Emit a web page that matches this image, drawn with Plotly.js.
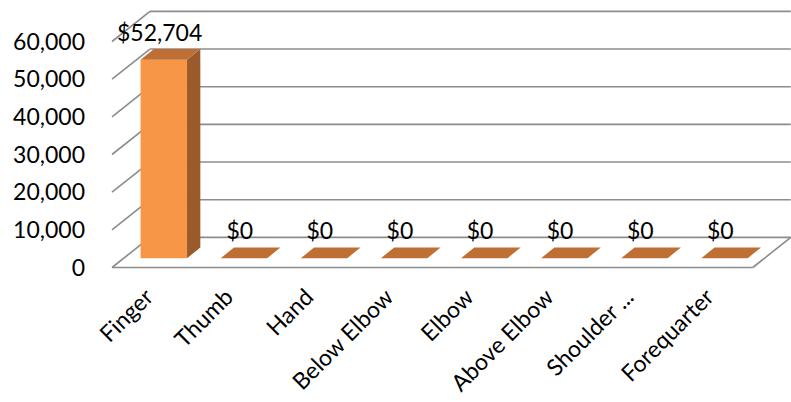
<!DOCTYPE html>
<html>
<head>
<meta charset="utf-8">
<script src="https://cdn.plot.ly/plotly-3.0.1.min.js"></script>
<style>html,body{margin:0;padding:0;background:#fff}#chart{width:791px;height:402px}</style>
</head>
<body>
<div id="chart"></div>
<script>
// ---- data ----
var categories = ['Finger','Thumb','Hand','Below Elbow','Elbow','Above Elbow','Shoulder ...','Forequarter'];
var values = [52704, 0, 0, 0, 0, 0, 0, 0];
var yTickVals = [0, 10000, 20000, 30000, 40000, 50000, 60000];
var yTickText = ['0', '10,000', '20,000', '30,000', '40,000', '50,000', '60,000'];
var valueLabels = values.map(function(v){ return '$' + v.toLocaleString('en-US'); });

// ---- 3D oblique look (depth vector in axis units) ----
var DX = 0.474;     // full depth, x units
var DY = 8000;      // full depth, value units
var d0 = 0.31, d1 = 0.66, hw = 0.29;
var xs = categories.map(function(c, i){ return i; });
var FONT = 'Lato, sans-serif';

var gridColor = '#8c8c8c';
var shapes = [];
yTickVals.forEach(function(t){
  shapes.push({type:'line', xref:'x', yref:'y', layer:'below', x0:-0.5, y0:t, x1:-0.5+DX, y1:t+DY, line:{color:gridColor, width:1.6}});
  shapes.push({type:'line', xref:'x', yref:'y', layer:'below', x0:-0.5+DX, y0:t+DY, x1:categories.length-0.5+DX, y1:t+DY, line:{color:gridColor, width:1.6}});
});
shapes.push({type:'line', xref:'x', yref:'y', layer:'below', x0:-0.5, y0:0, x1:categories.length-0.5, y1:0, line:{color:gridColor, width:1.6}});
shapes.push({type:'line', xref:'x', yref:'y', layer:'below', x0:categories.length-0.5, y0:0, x1:categories.length-0.5+DX, y1:DY, line:{color:gridColor, width:1.6}});

var traces = [];
// front faces
traces.push({
  type:'bar', x: xs.map(function(i){ return i + DX*d0; }), y: values,
  base: values.map(function(){ return DY*d0; }), width: 2*hw,
  marker:{color:'#F79646', line:{width:0}}, hoverinfo:'skip', showlegend:false
});
// side + top faces
values.forEach(function(v, i){
  if (v > 0) {
    traces.push({type:'scatter', mode:'lines', fill:'toself', fillcolor:'#9B5A2B', line:{width:0, color:'#9B5A2B'},
      x:[i+hw+DX*d0, i+hw+DX*d1, i+hw+DX*d1, i+hw+DX*d0, i+hw+DX*d0],
      y:[DY*d0, DY*d1, v+DY*d1, v+DY*d0, DY*d0], hoverinfo:'skip', showlegend:false});
  }
  traces.push({type:'scatter', mode:'lines', fill:'toself', fillcolor:'#BD6F34', line:{width:0, color:'#BD6F34'},
    x:[i-hw+DX*d0, i+hw+DX*d0, i+hw+DX*d1, i-hw+DX*d1, i-hw+DX*d0],
    y:[v+DY*d0, v+DY*d0, v+DY*d1, v+DY*d1, v+DY*d0], hoverinfo:'skip', showlegend:false});
});
// data labels
traces.push({type:'scatter', mode:'text', x: xs.map(function(i){ return i + DX*0.2; }),
  y: values.map(function(v){ return v + DY*d1 + 700; }), text: valueLabels, textposition:'top center',
  textfont:{family:FONT, size:23, color:'#000'}, cliponaxis:false, hoverinfo:'skip', showlegend:false});

var layout = {
  width:791, height:402,
  margin:{l:108, r:0, t:4, b:130},
  paper_bgcolor:'#fff', plot_bgcolor:'#fff',
  showlegend:false,
  font:{family:FONT, size:23, color:'#000'},
  xaxis:{range:[-0.55, 7.977], tickmode:'array', tickvals:xs.map(function(i){ return i - 0.07; }), ticktext:categories, tickangle:-45,
    showgrid:false, zeroline:false, showline:false, ticks:'', ticklabelstandoff:6,
    tickfont:{family:FONT, size:23, color:'#000'}},
  yaxis:{range:[-1195, 69956], tickmode:'array', tickvals:yTickVals, ticktext:yTickText,
    showgrid:false, zeroline:false, showline:false, ticks:'', ticklabelstandoff:22,
    tickfont:{family:FONT, size:23, color:'#000'}},
  shapes: shapes
};
Plotly.newPlot('chart', traces, layout, {displayModeBar:false, staticPlot:true});
</script>
</body>
</html>
